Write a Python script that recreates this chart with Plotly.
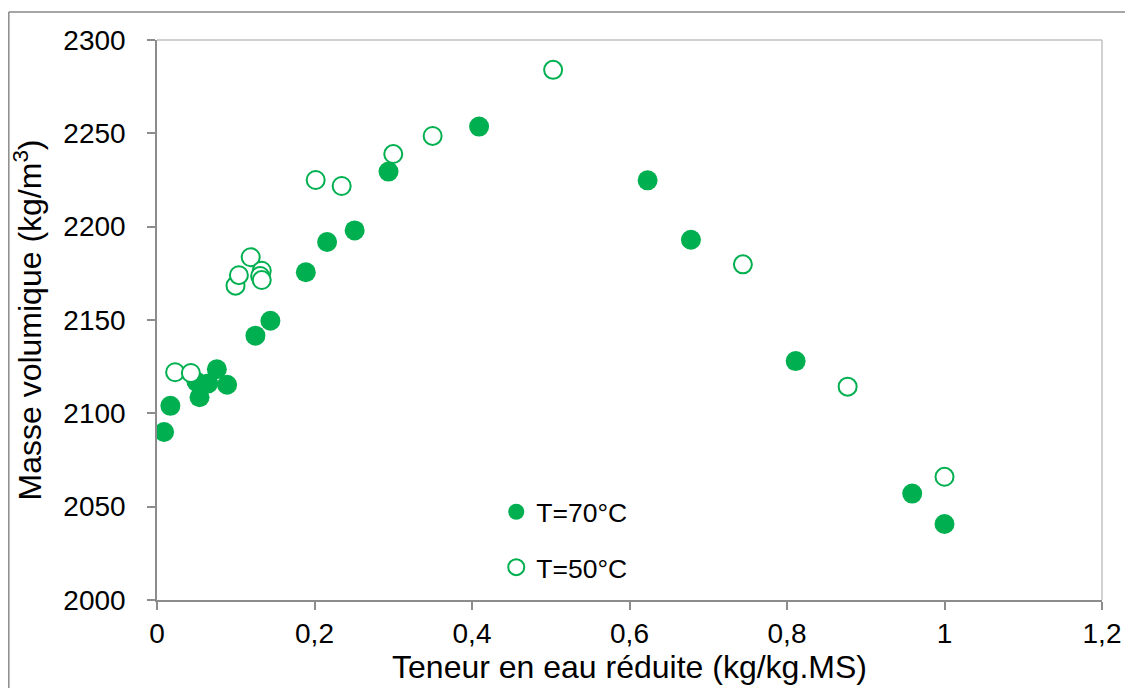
import plotly.graph_objects as go

# Data
x_70 = [0.009, 0.017, 0.050, 0.054, 0.065, 0.076, 0.089, 0.125, 0.144, 0.189,
        0.216, 0.251, 0.294, 0.409, 0.623, 0.678, 0.811, 0.959, 1.000]
y_70 = [2090, 2104, 2117, 2108.6, 2116, 2123.6, 2115.3, 2141.6, 2149.6, 2175.6,
        2191.8, 2198, 2229.5, 2253.6, 2224.8, 2193, 2128, 2057, 2040.7]

x_50 = [0.023, 0.043, 0.0997, 0.104, 0.119, 0.133, 0.131, 0.133, 0.2015, 0.2345,
        0.300, 0.350, 0.503, 0.744, 0.877, 1.000]
y_50 = [2122, 2121.6, 2168.4, 2174, 2183.6, 2176.4, 2173.6, 2171.4, 2225, 2221.8,
        2238.9, 2248.6, 2284, 2179.8, 2114.3, 2066]

series_names = ["T=70°C", "T=50°C"]
x_title = "Teneur en eau réduite (kg/kg.MS)"
y_title = "Masse volumique (kg/m<sup>3</sup>)"

GREEN = "#00B050"
FONT = "Liberation Sans, Arial, sans-serif"

fig = go.Figure()
fig.add_trace(go.Scatter(
    x=x_70, y=y_70, mode="markers", name=series_names[0], legendgroup="a",
    marker=dict(size=20, color=GREEN, line=dict(width=0)),
))
fig.add_trace(go.Scatter(
    x=x_50, y=y_50, mode="markers", name=series_names[1], legendgroup="b",
    marker=dict(size=18, color="white", line=dict(width=2, color=GREEN)),
))

# page body has an 8px default margin, so the figure is offset by (8, 8)
fig.update_layout(
    width=1125, height=680,
    margin=dict(l=149, r=27, t=32, b=88),
    paper_bgcolor="white", plot_bgcolor="white",
    separators=", ",
    font=dict(family=FONT, size=28, color="black"),
    showlegend=True,
    legend=dict(
        x=0.359, y=0.2, xanchor="left", yanchor="top",
        bgcolor="rgba(0,0,0,0)", borderwidth=0,
        font=dict(size=26.5, family=FONT),
        traceorder="grouped", tracegroupgap=18, itemwidth=30,
    ),
    xaxis=dict(
        range=[0, 1.2], dtick=0.2, tick0=0,
        showgrid=False, zeroline=False,
        showline=True, linecolor="#8C8C8C", linewidth=1.5,
        ticks="outside", ticklen=8, tickcolor="#8C8C8C", tickwidth=1.5,
        tickfont=dict(size=28),
        title=dict(text=x_title, font=dict(size=32), standoff=4),
    ),
    yaxis=dict(
        range=[2000, 2300], dtick=50, tick0=2000,
        showgrid=False, zeroline=False,
        showline=True, linecolor="#8C8C8C", linewidth=1.5,
        ticks="outside", ticklen=8, tickcolor="#8C8C8C", tickwidth=1.5,
        tickfont=dict(size=28), ticklabelstandoff=16,
        title=dict(text=y_title, font=dict(size=32), standoff=18),
    ),
    shapes=[
        # plot area top/right border
        dict(type="line", xref="paper", yref="paper", x0=0, x1=1, y0=1, y1=1,
             line=dict(color="#C0C0C0", width=1.5)),
        dict(type="line", xref="paper", yref="paper", x0=1, x1=1, y0=0, y1=1,
             line=dict(color="#C0C0C0", width=1.5)),
        # outer chart border (left and top visible)
        dict(type="line", xref="paper", yref="paper", x0=-0.1568, x1=-0.1568, y0=-0.2, y1=1.05,
             line=dict(color="#898989", width=1.5)),
        dict(type="line", xref="paper", yref="paper", x0=-0.1568, x1=1.1, y0=1.05, y1=1.05,
             line=dict(color="#898989", width=1.5)),
    ],
)

fig.write_html("out.html")
